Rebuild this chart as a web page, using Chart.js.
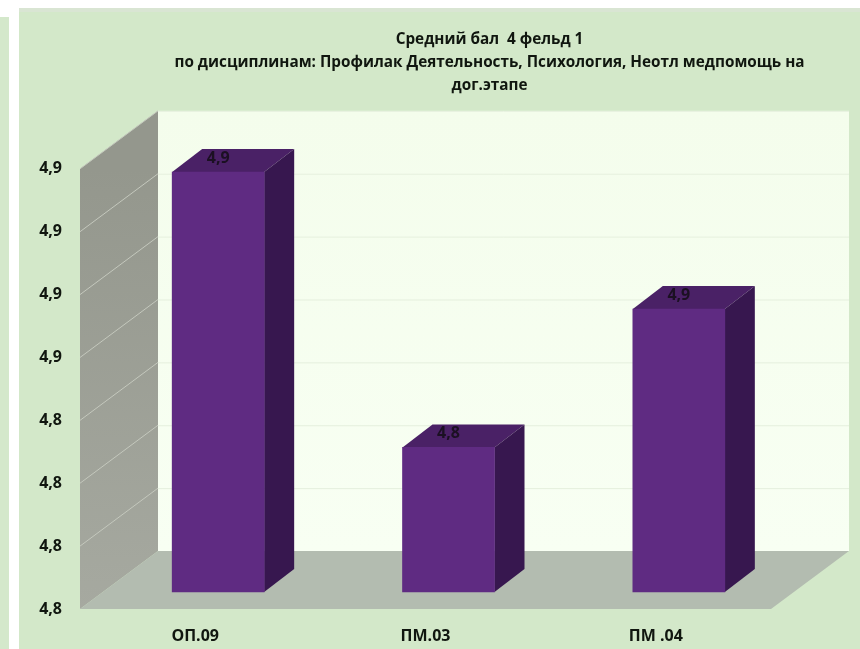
<!DOCTYPE html>
<html><head><meta charset="utf-8">
<style>
html,body{margin:0;padding:0;width:860px;height:649px;background:#fff;overflow:hidden}
#strip{position:absolute;left:0;top:17px;width:9px;height:632px;background:#d4e8cb}
#panel{position:absolute;left:19px;top:8px;width:841px;height:637px;background:#d3e8c9;border-top:4px solid #d9e5d3}
#wrap{position:absolute;left:0;top:0;width:860px;height:649px}
</style></head><body>
<div id="strip"></div><div id="panel"></div>
<div id="wrap"><canvas id="c" width="860" height="649"></canvas></div>
<script src="https://cdn.jsdelivr.net/npm/chart.js@4/dist/chart.umd.min.js"></script>
<script>
const categories = ['ОП.09', 'ПМ.03', 'ПМ .04'];
const values = [4.9136, 4.826, 4.87];
const valueLabels = ['4,9', '4,8', '4,9'];
const axisMin = 4.78, axisMax = 4.92, axisStep = 0.02;
const titleLines = ['Средний бал  4 фельд 1',
  'по дисциплинам: Профилак Деятельность, Психология, Неотл медпомощь на',
  'дог.этапе'];

const WALL = {dx: 78, dy: -58};
const BAR_SHIFT = {dx: 23, dy: -17};
const BAR_DEPTH = {dx: 30, dy: -23};
const FONT = '"Open Sans", "Noto Sans", sans-serif';

function poly(ctx, pts, fill){
  ctx.beginPath();
  pts.forEach((p,i)=> i ? ctx.lineTo(p[0],p[1]) : ctx.moveTo(p[0],p[1]));
  ctx.closePath(); ctx.fillStyle = fill; ctx.fill();
}

const scene3d = {
  id: 'scene3d',
  afterLayout(chart){
    // title is centred over the wall area of the panel, not the whole canvas
    chart.titleBlock.left = 119; chart.titleBlock.right = 860;
  },
  beforeDatasetsDraw(chart){
    const {ctx, chartArea:a, scales:{y}} = chart;
    const dx = WALL.dx, dy = WALL.dy;
    ctx.save();
    // back wall
    const g = ctx.createLinearGradient(0,a.top+dy,0,a.bottom+dy);
    g.addColorStop(0,'#f4fdec'); g.addColorStop(1,'#f8fff3');
    ctx.fillStyle = g;
    ctx.fillRect(a.left+dx, a.top+dy, a.right-a.left, a.bottom-a.top);
    // side wall
    const s = ctx.createLinearGradient(0,a.top,0,a.bottom);
    s.addColorStop(0,'#94978d'); s.addColorStop(1,'#a6a9a0');
    poly(ctx, [[a.left,a.top],[a.left+dx,a.top+dy],[a.left+dx,a.bottom+dy],[a.left,a.bottom]], s);
    // floor
    poly(ctx, [[a.left,a.bottom],[a.left+dx,a.bottom+dy],[a.right+dx,a.bottom+dy],[a.right,a.bottom]], '#b3bcb0');
    // grid
    y.ticks.forEach(t=>{
      const py = y.getPixelForValue(t.value);
      if (py >= a.bottom-1) return;
      ctx.strokeStyle = '#c4c8bd'; ctx.lineWidth = 1;
      ctx.beginPath(); ctx.moveTo(a.left,py); ctx.lineTo(a.left+dx,py+dy); ctx.stroke();
      ctx.strokeStyle = '#e6f0de'; ctx.lineWidth = 1;
      ctx.beginPath(); ctx.moveTo(a.left+dx,py+dy+0.5); ctx.lineTo(a.right+dx,py+dy+0.5); ctx.stroke();
    });
    ctx.restore();
  },
  beforeDatasetDraw(chart, args){
    const ctx = chart.ctx;
    ctx.save();
    ctx.translate(BAR_SHIFT.dx, BAR_SHIFT.dy);
    const ddx = BAR_DEPTH.dx, ddy = BAR_DEPTH.dy;
    args.meta.data.forEach(b=>{
      const l = b.x-b.width/2, r = b.x+b.width/2;
      poly(ctx, [[l,b.y],[l+ddx,b.y+ddy],[r+ddx,b.y+ddy],[r,b.y]], '#4a2166');
      poly(ctx, [[r,b.y],[r+ddx,b.y+ddy],[r+ddx,b.base+ddy],[r,b.base]], '#37174f');
    });
  },
  afterDatasetDraw(chart, args){
    const ctx = chart.ctx;
    ctx.restore();
    ctx.save();
    ctx.font = 'bold 16px '+FONT;
    ctx.fillStyle = '#1b1022';
    ctx.textAlign = 'center'; ctx.textBaseline = 'middle';
    args.meta.data.forEach((b,i)=>{
      ctx.fillText(valueLabels[i], b.x+BAR_SHIFT.dx, b.y+BAR_SHIFT.dy-14);
    });
    ctx.restore();
  }
};

new Chart(document.getElementById('c'), {
  type: 'bar',
  data: { labels: categories, datasets: [{
    data: values, base: axisMin, backgroundColor: '#5f2b82', borderWidth: 0, barThickness: 92, clip: false
  }]},
  options: {
    responsive: false, animation: false,
    layout: {padding: {left: 0, right: 89, top: 0, bottom: 0}},
    plugins: {
      legend: {display: false}, tooltip: {enabled: false},
      title: {display: true, text: titleLines, color: '#10160f',
        font: {family: FONT, size: 15.3, weight: 'bold', lineHeight: 1.5},
        padding: {top: 28, bottom: 72}}
    },
    scales: {
      x: {grid: {display: false}, border: {display: false},
        ticks: {color: '#10160f', font: {family: FONT, size: 16, weight: 'bold'}, padding: 10, maxRotation: 0},
        afterFit(s){ s.height = 40; }},
      y: {min: axisMin, max: axisMax, grid: {display: false, drawTicks: false}, border: {display: false},
        ticks: {stepSize: axisStep, color: '#10160f', font: {family: FONT, size: 16, weight: 'bold'}, padding: 18,
          callback: v => Number(v).toFixed(1).replace('.', ',')},
        afterFit(s){ s.width = 80; }}
    }
  },
  plugins: [scene3d]
});
</script>
</body></html>
